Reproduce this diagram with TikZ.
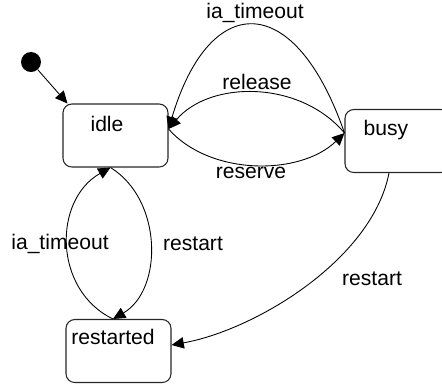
\documentclass[tikz,border=0pt]{standalone}
\usepackage{fontspec}
\setmainfont{Liberation Sans}
\usepackage{tikz}
\usetikzlibrary{arrows.meta,positioning,calc}
\tikzset{
  statebox/.style={rectangle, rounded corners=5pt, draw=black!85, line width=0.6pt,
                   minimum width=2.1cm, minimum height=1.26cm, inner sep=0pt},
  sname/.style={font=\fontsize{12}{14}\selectfont, inner sep=0pt},
  elabel/.style={font=\fontsize{12}{14}\selectfont, inner sep=0pt},
  trans/.style={-{Triangle[length=7pt,width=6.5pt]}, line width=0.5pt, black},
  initdot/.style={circle, fill=black, minimum size=0.4cm, inner sep=0pt},
}
\begin{document}
\begin{tikzpicture}[x=0.02cm, y=-0.02cm]
  \useasboundingbox (0,0) rectangle (442,387);
  % States
  \node[statebox] (idle) at (115.5,135.5) {};
  \node[statebox] (busy) at (397.5,141) {};
  \node[statebox] (restarted) at (118.5,351) {};
  \node[sname] (idlename) at (107,124) {idle};
  \node[sname] (busyname) at (386,130) {busy};
  \node[sname] (restartedname) at (113,337) {restarted};
  % Initial state
  \node[initdot] (init) at (31,62) {};
  \draw[trans] (init) -- ([xshift=0.1cm]idle.north west);
  % Ports
  \coordinate (idleR) at ([yshift=0.13cm]idle.east);
  \coordinate (busyL) at ([yshift=0.16cm]busy.west);
  \coordinate (idleB) at ([xshift=-0.1cm]idle.south);
  \coordinate (restT) at ([xshift=-0.11cm]restarted.north);
  \coordinate (busyB) at ([xshift=-0.17cm]busy.south);
  \coordinate (restR) at ([yshift=0.12cm]restarted.east);
  % idle <-> busy
  \draw[trans] (busyL) .. controls (295,-10) and (210,-10) .. (idleR);
  \draw[trans] (busyL) .. controls (300,80) and (210,80) .. (idleR);
  \draw[trans] (idleR) .. controls (210,176) and (300,176) .. (busyL);
  \node[elabel] (lbltimeout) at (255,13) {ia\_timeout};
  \node[elabel] (lblrelease) at (257,82) {release};
  \node[elabel] (lblreserve) at (251,173) {reserve};
  % idle <-> restarted
  \draw[trans] (restT) .. controls (53,290) and (53,200) .. (idleB);
  \draw[trans] (idleB) .. controls (163,200) and (163,290) .. (restT);
  \node[elabel] (lbltimeoutl) at (60,244) {ia\_timeout};
  \node[elabel] (lblrestartl) at (193,244) {restart};
  % busy -> restarted
  \draw[trans] (busyB) .. controls (372,260) and (255,330) .. (restR);
  \node[elabel] (lblrestartr) at (372,279) {restart};
\end{tikzpicture}
\end{document}
